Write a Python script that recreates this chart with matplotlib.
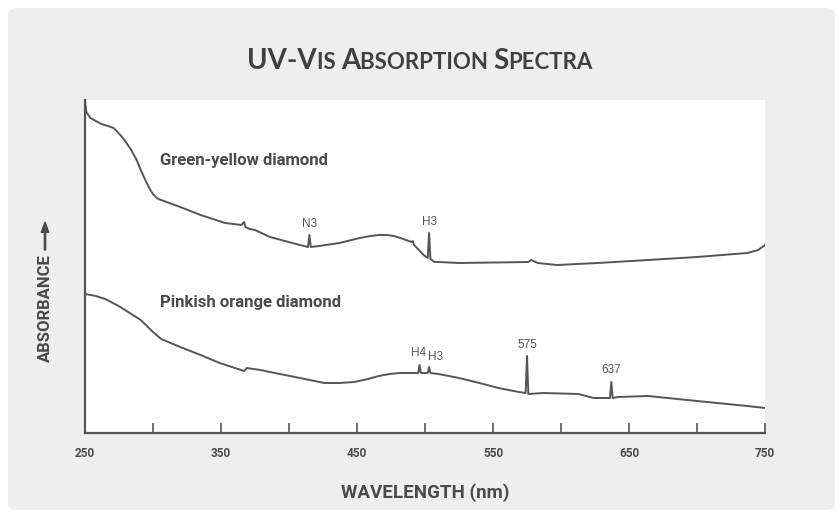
import matplotlib
matplotlib.use('Agg')
import matplotlib.pyplot as plt
from matplotlib.patches import FancyBboxPatch, FancyArrow

# Green-yellow diamond spectrum (wavelength nm, absorbance in arbitrary units)
gy_nm = [250, 251, 254, 258, 262, 267, 271, 276, 280, 284, 288, 291, 295, 298,
         300, 302, 304, 306, 320, 335, 353, 365, 367, 368, 371, 375, 386, 408,
         414, 415, 416, 422, 437, 452, 460, 466, 472, 477, 482, 486, 490, 491,
         492, 499, 502, 503, 504, 507, 510, 525, 576, 578, 583, 597, 627, 664,
         700, 737, 745, 750]
gy_abs = [3.32, 3.21, 3.15, 3.12, 3.09, 3.07, 3.05, 2.98, 2.91, 2.83, 2.73, 2.63,
          2.51, 2.43, 2.39, 2.36, 2.34, 2.33, 2.26, 2.18, 2.10, 2.08, 2.11, 2.06,
          2.04, 2.03, 1.96, 1.88, 1.86, 1.98, 1.86, 1.87, 1.90, 1.95, 1.97, 1.98,
          1.98, 1.97, 1.95, 1.93, 1.91, 1.92, 1.88, 1.78, 1.75, 2.00, 1.74, 1.71,
          1.71, 1.70, 1.71, 1.73, 1.70, 1.68, 1.70, 1.73, 1.76, 1.80, 1.83, 1.88]

# Pinkish orange diamond spectrum
po_nm = [250, 258, 265, 276, 291, 300, 306, 320, 335, 349, 367, 369, 379, 386,
         408, 426, 437, 448, 458, 466, 474, 481, 492, 495, 496, 497, 502, 503,
         504, 510, 525, 540, 554, 569, 574, 575, 576, 587, 613, 624, 636, 637,
         638, 642, 664, 700, 737, 750]
po_abs = [1.39, 1.37, 1.34, 1.26, 1.13, 1.01, 0.94, 0.86, 0.78, 0.70, 0.62, 0.65,
          0.63, 0.61, 0.55, 0.50, 0.50, 0.51, 0.54, 0.57, 0.59, 0.60, 0.60, 0.60,
          0.68, 0.60, 0.60, 0.66, 0.60, 0.59, 0.55, 0.50, 0.45, 0.41, 0.40, 0.77,
          0.39, 0.40, 0.39, 0.35, 0.35, 0.51, 0.35, 0.36, 0.37, 0.32, 0.27, 0.25]

# peak labels: text, x position (nm), y of label bottom
peak_text = ['N3', 'H3', 'H4', 'H3', '575', '637']
peak_x = [415, 503, 495, 508, 575, 637]
peak_y = [2.03, 2.05, 0.74, 0.70, 0.82, 0.57]

tick_pos = list(range(250, 751, 50))
tick_labels = ['250', '', '350', '', '450', '', '550', '', '650', '', '750']

bold_font = 'Roboto'
ink = '#4a4a4a'

fig = plt.figure(figsize=(8.4, 5.18), dpi=100, facecolor='white')
fig.patches.append(FancyBboxPatch((8 / 840, 8 / 518), 827 / 840, 502 / 518,
                                  boxstyle='round,pad=0,rounding_size=0.012',
                                  transform=fig.transFigure, facecolor='#eeeeee',
                                  edgecolor='none', zorder=-5))

ax = fig.add_axes([85 / 840, 1 - 433 / 518, 680 / 840, 333 / 518])
ax.set_facecolor('white')
ax.plot(gy_nm, gy_abs, color='#555555', lw=1.4)
ax.plot(po_nm, po_abs, color='#555555', lw=1.4)

ax.set_xlim(250, 750)
ax.set_ylim(0, 3.33)
for s in ['top', 'right']:
    ax.spines[s].set_visible(False)
for s in ['left', 'bottom']:
    ax.spines[s].set_color('#555555')
    ax.spines[s].set_linewidth(1.6)
ax.set_yticks([])
ax.set_xticks(tick_pos)
ax.set_xticklabels(tick_labels, family=bold_font, weight='bold', fontsize=8.5,
                   color=ink)
ax.tick_params(axis='x', direction='in', length=7, width=1.2, color='#555555', pad=10)

ax.text(305, 2.73, 'Green-yellow diamond', family=bold_font, weight='bold',
        fontsize=12, color=ink, va='center')
ax.text(305, 1.31, 'Pinkish orange diamond', family=bold_font, weight='bold',
        fontsize=12, color=ink, va='center')

for t, x, y in zip(peak_text, peak_x, peak_y):
    ax.text(x, y, t, fontsize=8.5, color='#555555', ha='center', va='bottom',
            family='Liberation Sans')

fig.text(425 / 840, 1 - 493 / 518, 'WAVELENGTH (nm)', family=bold_font,
         weight='bold', fontsize=13.5, color=ink, ha='center', va='center')
fig.text(45 / 840, 1 - 308 / 518, 'ABSORBANCE', family=bold_font, weight='bold',
         fontsize=12, color=ink, ha='center', va='center', rotation=90)
fig.patches.append(FancyArrow(45 / 840, 1 - 250 / 518, 0, 28 / 518,
                              width=0.0015, head_width=0.009,
                              head_length=0.02, length_includes_head=True,
                              transform=fig.transFigure, color=ink, zorder=3))

# small-caps title built from pieces
title_parts = [('UV-V', 20), ('IS ', 16), ('A', 20), ('BSORPTION ', 16),
               ('S', 20), ('PECTRA', 16)]
renderer = fig.canvas.get_renderer()
pieces = []
for txt, size in title_parts:
    t = fig.text(0, 1 - 69 / 518, txt, fontsize=size, family='Lato', weight='bold',
                 color='#404040', va='baseline', ha='left')
    pieces.append(t)
widths = [p.get_window_extent(renderer).width for p in pieces]
x0 = (840 - sum(widths)) / 2
for p, w in zip(pieces, widths):
    p.set_x(x0 / 840)
    x0 += w

fig.savefig('out.png', dpi=100, facecolor=fig.get_facecolor())
